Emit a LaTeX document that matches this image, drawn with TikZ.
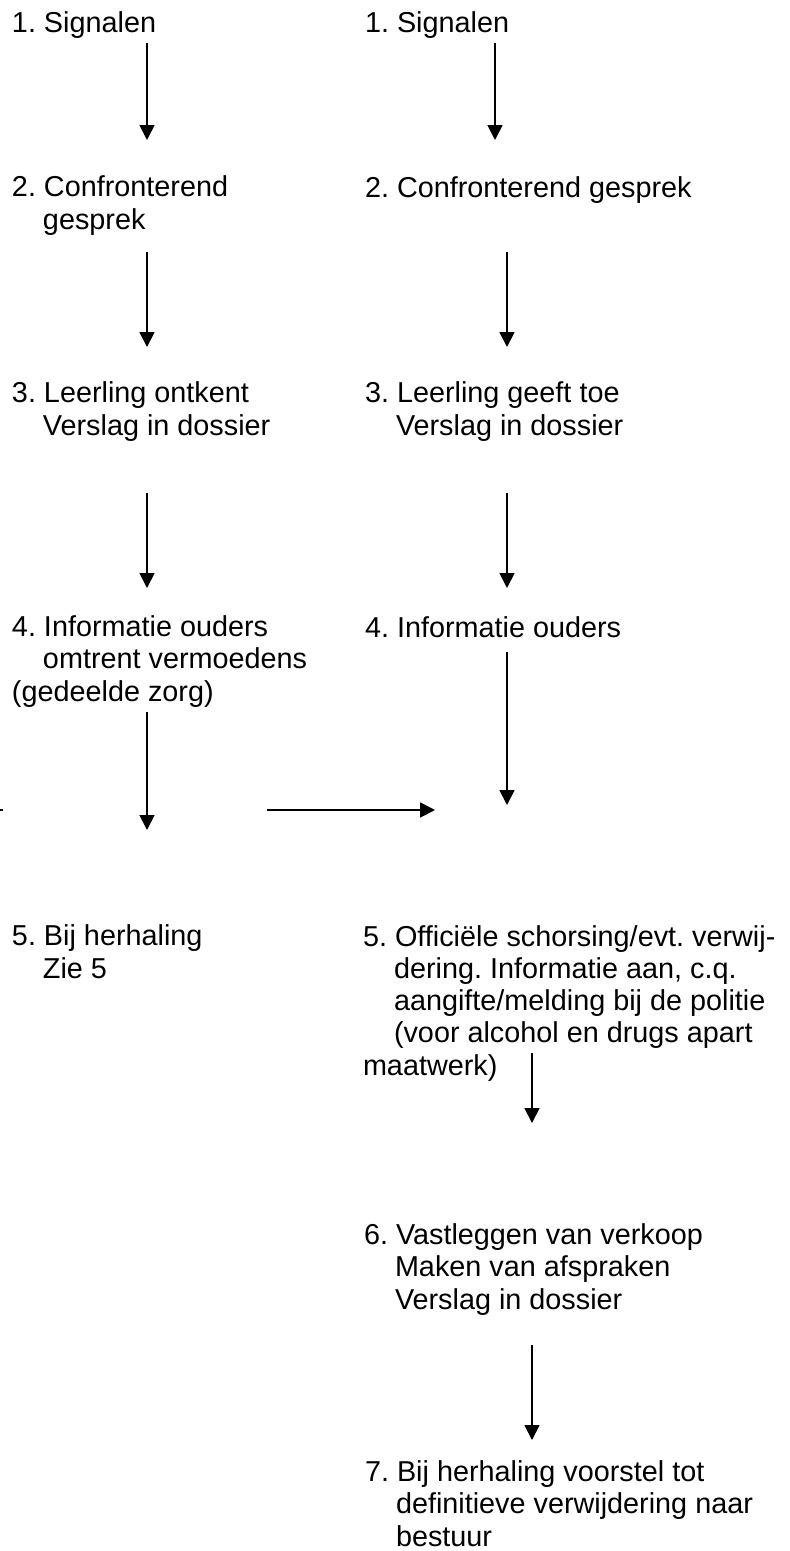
\documentclass[tikz,border=0pt]{standalone}
\usepackage{fontspec}
\setmainfont{Liberation Sans}
\usepackage{tikz}
\usetikzlibrary{arrows.meta,positioning,calc}

\newcommand{\ind}{\hspace*{31pt}}
\tikzset{
  stap/.style={inner sep=0pt, outer sep=0pt, anchor=base west, align=left,
    font=\fontsize{28.8}{32.2}\selectfont\frenchspacing},
  pijl/.style={line width=1.8pt, -{Triangle[length=15pt,width=15pt]}}
}

\begin{document}
\begin{tikzpicture}[x=1pt,y=-1pt]
\useasboundingbox (0,0) rectangle (790,1551);

% left column (node sits on baseline of its last line)
\node[stap] (l1) at (12,32) {1. Signalen};
\node[stap] (l2) at (12,229) {2. Confronterend\\\ind gesprek};
\node[stap] (l3) at (12,435) {3. Leerling ontkent\\\ind Verslag in dossier};
\node[stap] (l4) at (12,701) {4. Informatie ouders\\\ind omtrent vermoedens\\(gedeelde zorg)};
\node[stap] (l5) at (12,978) {5. Bij herhaling\\\ind Zie 5};

% right column
\node[stap] (r1) at (365,32) {1. Signalen};
\node[stap] (r2) at (365,197) {2. Confronterend gesprek};
\node[stap] (r3) at (365,435) {3. Leerling geeft toe\\\ind Verslag in dossier};
\node[stap] (r4) at (365,637) {4. Informatie ouders};
\node[stap] (r5) at (363,1075) {5. Officiële schorsing/evt. verwij-\\\ind dering. Informatie aan, c.q.\\\ind aangifte/melding bij de politie\\\ind (voor alcohol en drugs apart\\maatwerk)};
\node[stap] (r6) at (364,1309) {6. Vastleggen van verkoop\\\ind Maken van afspraken\\\ind Verslag in dossier};
\node[stap] (r7) at (365,1546) {7. Bij herhaling voorstel tot\\\ind definitieve verwijdering naar\\\ind bestuur};

% arrow ends
\coordinate (la1) at (147,43);  \coordinate (lb1) at (147,140);
\coordinate (la2) at (147,252); \coordinate (lb2) at (147,347);
\coordinate (la3) at (147,493); \coordinate (lb3) at (147,588);
\coordinate (la4) at (147,712); \coordinate (lb4) at (147,830);
\coordinate (ra1) at (495,43);  \coordinate (rb1) at (495,140);
\coordinate (ra2) at (507,252); \coordinate (rb2) at (507,347);
\coordinate (ra3) at (507,493); \coordinate (rb3) at (507,588);
\coordinate (ra4) at (507,652); \coordinate (rb4) at (507,805);
\coordinate (ra5) at (532,1053); \coordinate (rb5) at (532,1123);
\coordinate (ra6) at (532,1345); \coordinate (rb6) at (532,1440);
\coordinate (ha) at (267,810);  \coordinate (hb) at (435,810);
\coordinate (rest) at (0,810);

% arrows
\draw[pijl] (la1) -- (lb1);
\draw[pijl] (la2) -- (lb2);
\draw[pijl] (la3) -- (lb3);
\draw[pijl] (la4) -- (lb4);
\draw[pijl] (ra1) -- (rb1);
\draw[pijl] (ra2) -- (rb2);
\draw[pijl] (ra3) -- (rb3);
\draw[pijl] (ra4) -- (rb4);
\draw[pijl] (ra5) -- (rb5);
\draw[pijl] (ra6) -- (rb6);
\draw[pijl] (ha) -- (hb);
\draw[line width=1.8pt] (rest) -- ++(3,0); % stub at edge
\end{tikzpicture}
\end{document}
